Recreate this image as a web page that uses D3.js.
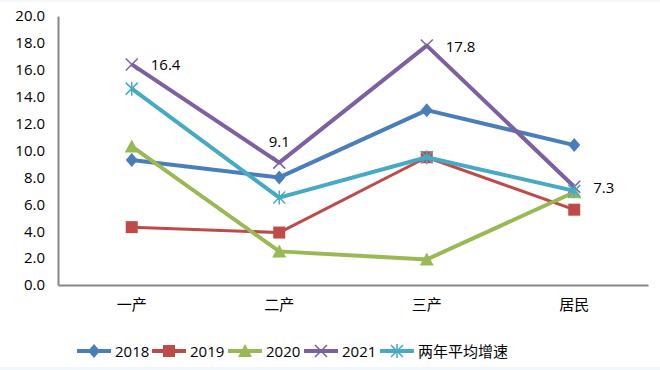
<!DOCTYPE html>
<html>
<head>
<meta charset="utf-8">
<script src="https://cdn.jsdelivr.net/npm/d3@7/dist/d3.min.js"></script>
<style>
  body { margin: 0; background: #fff; }
  svg text { font-family: "Open Sans", "Noto Sans CJK SC", sans-serif; fill: #000; }
</style>
</head>
<body>
<div id="chart"></div>
<script>
// categories and series
var categories = ["一产", "二产", "三产", "居民"];
var yTicks = [0, 2, 4, 6, 8, 10, 12, 14, 16, 18, 20];
var seriesNames = ["2018", "2019", "2020", "2021", "两年平均增速"];
var v2018 = [9.3, 8.0, 13.0, 10.4];
var v2019 = [4.3, 3.9, 9.5, 5.6];
var v2020 = [10.3, 2.5, 1.9, 6.9];
var v2021 = [16.4, 9.1, 17.8, 7.3];
var vAvg  = [14.6, 6.5, 9.5, 7.0];
var labels2021 = ["16.4", "9.1", "17.8", "7.3"];

var colors = ["#4a7ebb", "#be4b48", "#98b954", "#7d60a0", "#46aac5"];
var markers = ["diamond", "square", "triangle", "cross", "star"];
var allValues = [v2018, v2019, v2020, v2021, vAvg];

var width = 660, height = 370;
var margin = {top: 16, left: 58, right: 12, bottom: 85};

var svg = d3.select("#chart").append("svg")
  .attr("width", width).attr("height", height);

svg.append("rect").attr("width", width).attr("height", height).attr("fill", "#fff");
svg.append("rect").attr("x", 0).attr("y", 0).attr("width", width).attr("height", 2).attr("fill", "#f2f7fb");
svg.append("rect").attr("x", 0).attr("y", height - 3).attr("width", width).attr("height", 3).attr("fill", "#f2f7fb");

var x = d3.scaleBand().domain(categories).range([margin.left, width - margin.right]);
var y = d3.scaleLinear().domain([0, 20]).range([height - margin.bottom, margin.top]);

// axes
var yAxis = svg.append("g")
  .attr("transform", `translate(${margin.left},0)`)
  .call(d3.axisLeft(y).tickValues(yTicks).tickSize(0).tickPadding(13).tickFormat(d3.format(".1f")));
yAxis.select(".domain").attr("stroke", "#868686").attr("stroke-width", 2);
yAxis.selectAll("text").attr("font-size", 15);

var xAxis = svg.append("g")
  .attr("transform", `translate(0,${height - margin.bottom})`)
  .call(d3.axisBottom(x).tickSize(0).tickPadding(14));
xAxis.select(".domain").attr("stroke", "#868686").attr("stroke-width", 2);
xAxis.selectAll("text").attr("font-size", 15).attr("font-family", "Noto Sans CJK SC");

function cx(i) { return x(categories[i]) + x.bandwidth() / 2; }

function drawMarker(g, type, color, px, py) {
  var s = 6;
  if (type === "diamond") {
    g.append("path").attr("d", `M${px},${py - s - 1}L${px + s},${py}L${px},${py + s + 1}L${px - s},${py}Z`).attr("fill", color);
  } else if (type === "square") {
    g.append("rect").attr("x", px - s).attr("y", py - s).attr("width", 2 * s).attr("height", 2 * s).attr("fill", color);
  } else if (type === "triangle") {
    g.append("path").attr("d", `M${px},${py - s - 1}L${px + s + 1},${py + s}L${px - s - 1},${py + s}Z`).attr("fill", color);
  } else if (type === "cross") {
    g.append("path").attr("d", `M${px - s},${py - s}L${px + s},${py + s}M${px - s},${py + s}L${px + s},${py - s}`)
      .attr("stroke", color).attr("stroke-width", 1.5);
  } else if (type === "star") {
    g.append("path").attr("d", `M${px - s},${py - s}L${px + s},${py + s}M${px - s},${py + s}L${px + s},${py - s}M${px},${py - s - 1}L${px},${py + s + 1}`)
      .attr("stroke", color).attr("stroke-width", 1.5);
  }
}

var line = d3.line().x(function(d, i) { return cx(i); }).y(function(d) { return y(d); });

allValues.forEach(function(vals, k) {
  var g = svg.append("g");
  g.append("path").datum(vals).attr("d", line).attr("fill", "none")
    .attr("stroke", colors[k]).attr("stroke-width", k === 1 ? 3 : 4).attr("stroke-linejoin", "round");
  vals.forEach(function(v, i) { drawMarker(g, markers[k], colors[k], cx(i), y(v)); });
});

// data labels for 2021
var labelPos = ["right", "top", "right", "right"];
v2021.forEach(function(v, i) {
  var t = svg.append("text").text(labels2021[i]).attr("font-size", 15);
  if (labelPos[i] === "top") {
    t.attr("x", cx(i)).attr("y", y(v) - 16).attr("text-anchor", "middle");
  } else {
    t.attr("x", cx(i) + 19).attr("y", y(v) + 6).attr("text-anchor", "start");
  }
});

// legend
var legendX = [77, 152, 228, 304, 380];
seriesNames.forEach(function(name, k) {
  var g = svg.append("g");
  var ly = 351;
  g.append("line").attr("x1", legendX[k]).attr("x2", legendX[k] + 34).attr("y1", ly).attr("y2", ly)
    .attr("stroke", colors[k]).attr("stroke-width", 4);
  drawMarker(g, markers[k], colors[k], legendX[k] + 17, ly);
  g.append("text").attr("x", legendX[k] + 38).attr("y", ly + 6).attr("font-size", 15)
    .attr("font-family", k === 4 ? "Noto Sans CJK SC" : null).text(name);
});
</script>
</body>
</html>
